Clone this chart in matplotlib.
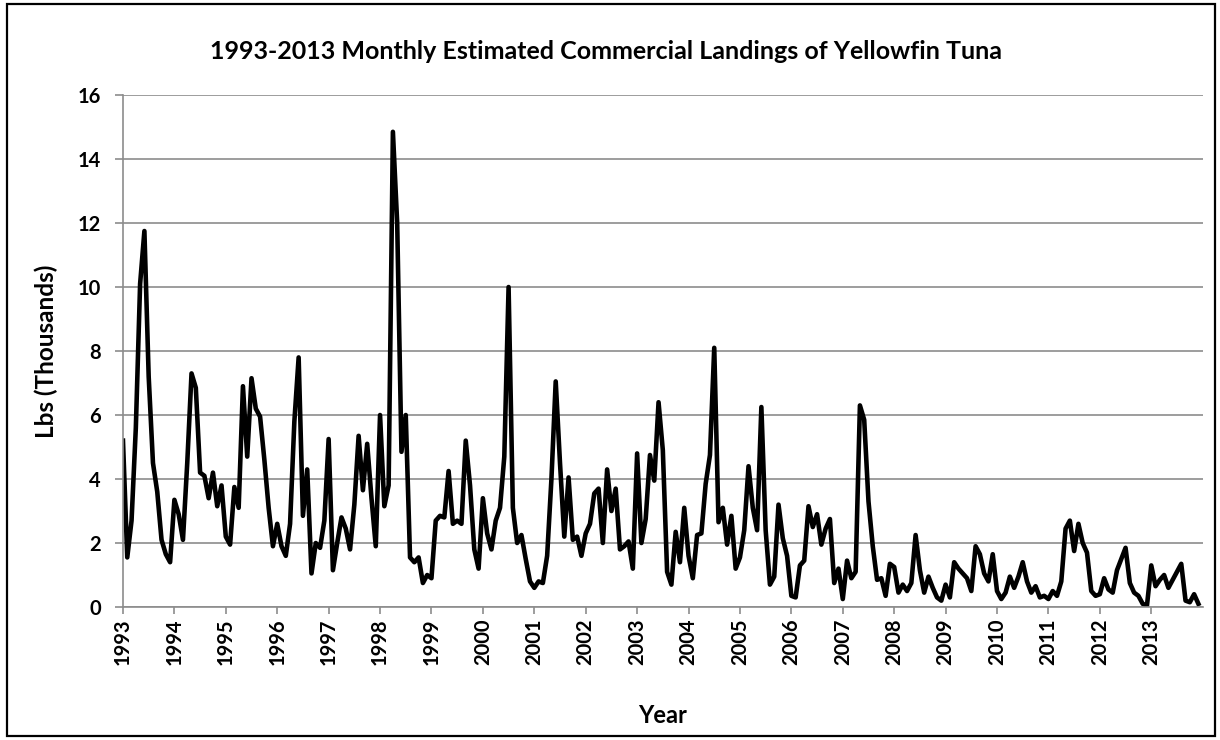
import numpy as np
import matplotlib.pyplot as plt
from matplotlib.patches import Rectangle

plt.rcParams['font.family'] = ['Lato', 'DejaVu Sans']

# monthly landings (thousands of lbs), Jan..Dec per year
y1993 = [5.2, 1.55, 2.7, 5.6, 10.1, 11.75, 7.2, 4.5, 3.6, 2.1, 1.65, 1.4]
y1994 = [3.35, 2.9, 2.1, 4.5, 7.3, 6.85, 4.2, 4.1, 3.4, 4.2, 3.15, 3.8]
y1995 = [2.2, 1.95, 3.75, 3.1, 6.9, 4.7, 7.15, 6.2, 5.95, 4.6, 3.1, 1.9]
y1996 = [2.6, 1.9, 1.6, 2.6, 5.8, 7.8, 2.85, 4.3, 1.05, 2.0, 1.85, 2.7]
y1997 = [5.25, 1.15, 2.0, 2.8, 2.45, 1.8, 3.2, 5.35, 3.65, 5.1, 3.4, 1.9]
y1998 = [6.0, 3.15, 3.8, 14.85, 12.0, 4.85, 6.0, 1.55, 1.4, 1.55, 0.75, 1.0]
y1999 = [0.9, 2.7, 2.85, 2.8, 4.25, 2.6, 2.7, 2.6, 5.2, 3.8, 1.8, 1.2]
y2000 = [3.4, 2.3, 1.8, 2.7, 3.1, 4.7, 10.0, 3.1, 2.0, 2.25, 1.5, 0.8]
y2001 = [0.6, 0.8, 0.75, 1.6, 4.0, 7.05, 4.5, 2.2, 4.05, 2.1, 2.2, 1.6]
y2002 = [2.3, 2.6, 3.55, 3.7, 2.0, 4.3, 3.0, 3.7, 1.8, 1.9, 2.05, 1.2]
y2003 = [4.8, 2.0, 2.75, 4.75, 3.95, 6.4, 4.9, 1.1, 0.7, 2.35, 1.4, 3.1]
y2004 = [1.6, 0.9, 2.25, 2.3, 3.85, 4.75, 8.1, 2.65, 3.1, 1.95, 2.85, 1.2]
y2005 = [1.55, 2.4, 4.4, 3.1, 2.4, 6.25, 2.4, 0.7, 0.95, 3.2, 2.15, 1.6]
y2006 = [0.35, 0.3, 1.3, 1.45, 3.15, 2.5, 2.9, 1.95, 2.45, 2.75, 0.75, 1.2]
y2007 = [0.25, 1.45, 0.9, 1.1, 6.3, 5.85, 3.3, 1.9, 0.85, 0.9, 0.35, 1.35]
y2008 = [1.25, 0.45, 0.7, 0.5, 0.75, 2.25, 1.15, 0.45, 0.95, 0.6, 0.3, 0.2]
y2009 = [0.7, 0.3, 1.4, 1.2, 1.05, 0.9, 0.5, 1.9, 1.65, 1.05, 0.8, 1.65]
y2010 = [0.5, 0.25, 0.45, 0.95, 0.6, 0.95, 1.4, 0.8, 0.45, 0.65, 0.3, 0.35]
y2011 = [0.25, 0.5, 0.35, 0.8, 2.45, 2.7, 1.75, 2.6, 2.0, 1.7, 0.5, 0.35]
y2012 = [0.4, 0.9, 0.55, 0.45, 1.15, 1.5, 1.85, 0.75, 0.45, 0.35, 0.1, 0.05]
y2013 = [1.3, 0.65, 0.85, 1.0, 0.6, 0.85, 1.1, 1.35, 0.2, 0.15, 0.4, 0.1]

years = list(range(1993, 2014))
landings = (y1993 + y1994 + y1995 + y1996 + y1997 + y1998 + y1999 + y2000 +
            y2001 + y2002 + y2003 + y2004 + y2005 + y2006 + y2007 + y2008 +
            y2009 + y2010 + y2011 + y2012 + y2013)
t = 1993 + np.arange(len(landings)) / 12.0

fig = plt.figure(figsize=(12.2, 7.4), dpi=100)
ax = fig.add_axes([0.1008, 0.1797, 0.885, 0.6919])

ax.plot(t, landings, color='black', linewidth=3.3, solid_joinstyle='round')

ax.set_xlim(1993, 2014)
ax.set_ylim(0, 16)
ax.set_yticks(range(0, 17, 2))
ax.set_xticks(years)
ax.set_xticklabels([str(y) for y in years], rotation=90, fontweight='bold', fontsize=14.5)
for lab in ax.get_yticklabels():
    lab.set_fontweight('bold')
    lab.set_fontsize(14.5)

ax.grid(True, axis='y', color='#8c8c8c', linewidth=1.2)
ax.set_axisbelow(True)
for s in ['top', 'right']:
    ax.spines[s].set_visible(False)
ax.spines['left'].set_color('#8c8c8c')
ax.spines['bottom'].set_color('#8c8c8c')
ax.spines['left'].set_linewidth(1.2)
ax.spines['bottom'].set_linewidth(1.2)
ax.tick_params(axis='y', color='#8c8c8c', length=6, width=1.2, pad=10)
ax.tick_params(axis='x', color='#8c8c8c', length=5, width=1.2, pad=3)

fig.text(0.497, 0.93, '1993-2013 Monthly Estimated Commercial Landings of Yellowfin Tuna',
         fontsize=18, fontweight='bold', ha='center', va='center')
ax.set_ylabel('Lbs (Thousands)', fontsize=17.5, fontweight='bold', labelpad=14)
ax.set_xlabel('Year', fontsize=17, fontweight='bold', labelpad=28)

fig.patches.append(Rectangle((0.0057, 0.005), 0.9906, 0.99, transform=fig.transFigure,
                             fill=False, edgecolor='black', linewidth=1.6))

fig.savefig('out.png', dpi=100)
